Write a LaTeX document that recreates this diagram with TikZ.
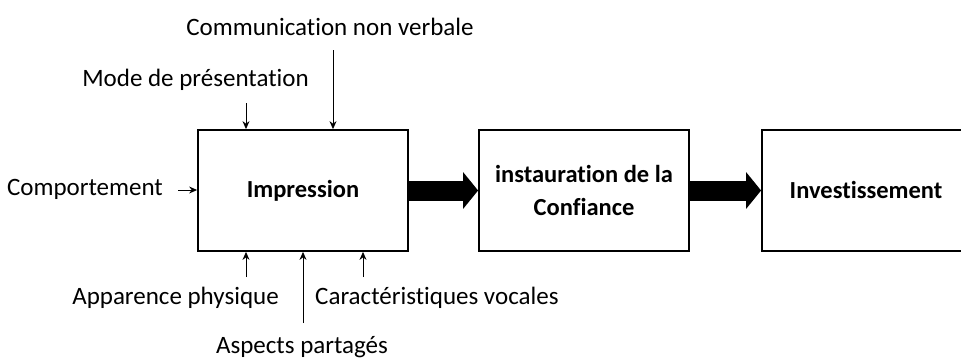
\documentclass[tikz,border=0pt]{standalone}
\usepackage{fontspec}
\setmainfont[Ligatures=NoCommon]{Carlito}
\usetikzlibrary{arrows.meta}
\tikzset{
  box/.style={draw, line width=1.8pt, minimum height=121pt, inner sep=0pt, font=\fontsize{24.5}{33}\selectfont\bfseries, align=center},
  lbl/.style={inner sep=0pt, font=\fontsize{25}{30}\selectfont},
  thin/.style={line width=0.9pt, -{Stealth[length=8pt,width=7pt]}},
  big/.style={line width=20pt, -{Triangle[length=15pt,width=36pt]}}
}
\begin{document}
\begin{tikzpicture}[x=1pt,y=-1pt]
\useasboundingbox (0,0) rectangle (961,360);
\clip (0,0) rectangle (961,360);
\node[box, minimum width=210pt] (b1) at (303,190.5) {Impression};
\node[box, minimum width=210pt] (b2) at (584,190.5) {instauration de la\\Confiance};
\node[box, minimum width=240pt] (b3) at (882,190.5) {};
\node[inner sep=0pt, font=\fontsize{24.5}{30}\selectfont\bfseries] (t3) at (866,190) {Investissement};
\draw[big] (b1.east) -- (b2.west);
\draw[big] (b2.east) -- (b3.west);
\node[lbl] (comm) at (330,27) {Communication non verbale};
\node[lbl] (mode) at (195.5,80) {Mode de présentation};
\node[lbl, anchor=east] (comp) at (163,189) {Comportement};
\node[lbl] (app) at (175.5,298) {Apparence physique};
\node[lbl, anchor=west] (car) at (315,298) {Caractéristiques vocales};
\node[lbl] (asp) at (302,347) {Aspects partagés};
\coordinate (c1) at (333,50);
\coordinate (c2) at (246,103);
\coordinate (c3) at (178,190);
\coordinate (c4) at (246,277);
\coordinate (c5) at (303,323);
\coordinate (c6) at (363,277);
\draw[thin] (c1) -- (c1 |- b1.north);
\draw[thin] (c2) -- (c2 |- b1.north);
\draw[thin] (c3) -- (c3 -| b1.west);
\draw[thin] (c4) -- (c4 |- b1.south);
\draw[thin] (c5) -- (c5 |- b1.south);
\draw[thin] (c6) -- (c6 |- b1.south);
\end{tikzpicture}
\end{document}
